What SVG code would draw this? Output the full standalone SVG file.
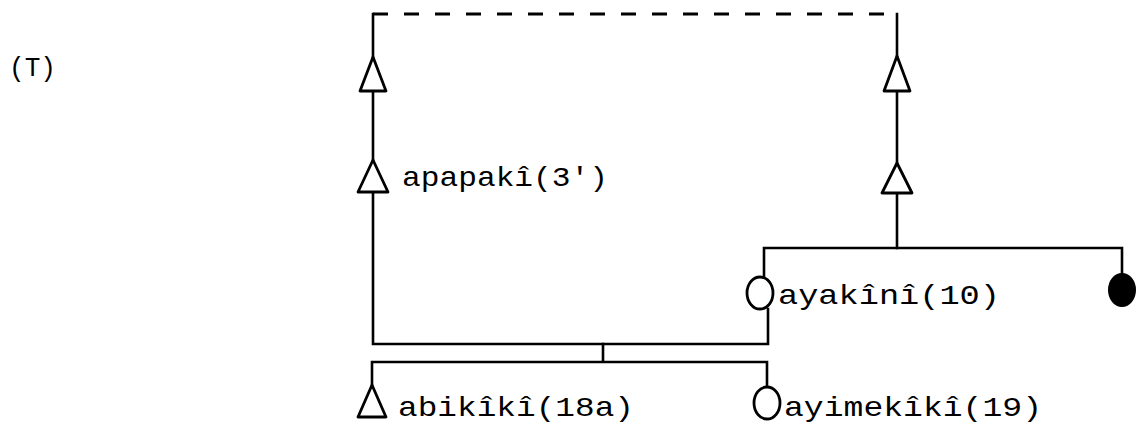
<svg xmlns="http://www.w3.org/2000/svg" width="1137" height="424" viewBox="0 0 1137 424">
<style>
.ln{stroke:#000;stroke-width:2.6;fill:none;stroke-linecap:square}
.dash{stroke:#000;stroke-width:3;fill:none;stroke-dasharray:15 16}
.m{fill:#fff;stroke:#000;stroke-width:2.8;stroke-linejoin:round}
.f{fill:#000;stroke:#000;stroke-width:2}
text{font-family:"Liberation Mono","DejaVu Sans Mono",monospace;font-size:28px;fill:#000}
</style>
<rect width="1137" height="424" fill="#fff"/>
<g id="connectors">
<path class="dash" d="M373 14 H897"/>
<path class="ln" d="M373 14 V57 M373 91 V160 M373 192 V344 H768 V309"/>
<path class="ln" d="M897 14 V56 M897 91 V163 M897 193 V248"/>
<path class="ln" d="M764 248 H1122 M764 248 V277 M1122 248 V273"/>
<path class="ln" d="M603 344 V362 M372 362 H767 M372 362 V385 M767 362 V387"/>
</g>
<text id="title" x="9" y="76" textLength="47" lengthAdjust="spacingAndGlyphs">(T)</text>
<g id="n-left-top"><path class="m" d="M373 57 L386 91 L360 91 Z"/></g>
<g id="n-right-top"><path class="m" d="M897 56 L910 91 L884 91 Z"/></g>
<g id="n-apapaki"><path class="m" d="M373 160 L388 192 L358 192 Z"/><text x="402" y="186" textLength="206" lengthAdjust="spacingAndGlyphs">apapakî(3')</text></g>
<g id="n-right-mid"><path class="m" d="M897 163 L912 193 L882 193 Z"/></g>
<g id="n-ayakini"><ellipse class="m" cx="760" cy="293" rx="13" ry="16"/><text x="778" y="304" textLength="222" lengthAdjust="spacingAndGlyphs">ayakînî(10)</text></g>
<g id="n-black"><ellipse class="f" cx="1122" cy="290" rx="13" ry="16"/></g>
<g id="n-abikiki"><path class="m" d="M372 385 L386 417 L358 417 Z"/><text x="398" y="416" textLength="236" lengthAdjust="spacingAndGlyphs">abikîkî(18a)</text></g>
<g id="n-ayimekiki"><ellipse class="m" cx="767" cy="403" rx="13" ry="16"/><text x="784" y="416" textLength="258" lengthAdjust="spacingAndGlyphs">ayimekîkî(19)</text></g>
</svg>
